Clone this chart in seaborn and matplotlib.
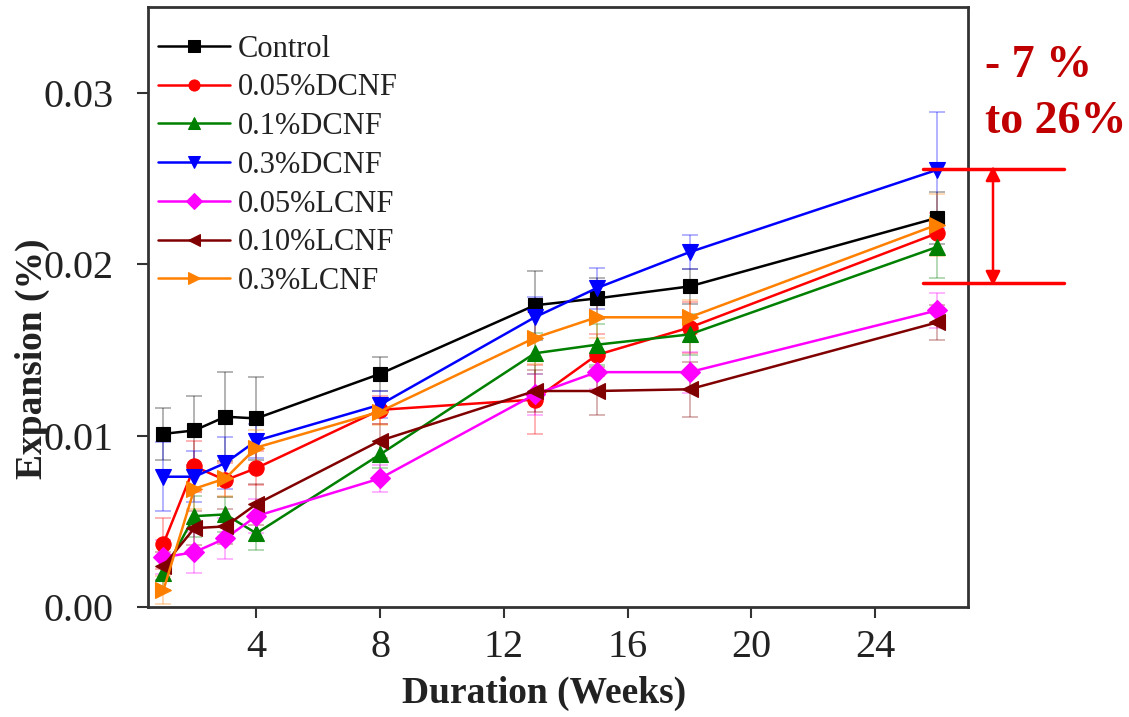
import numpy as np
import pandas as pd
import matplotlib
matplotlib.use("Agg")
import matplotlib.pyplot as plt
from matplotlib.lines import Line2D
import seaborn as sns

weeks = [1, 2, 3, 4, 8, 13, 15, 18, 26]
series_names = ["Control", "0.05%DCNF", "0.1%DCNF", "0.3%DCNF",
                "0.05%LCNF", "0.10%LCNF", "0.3%LCNF"]

control   = [0.0101, 0.0103, 0.0111, 0.0110, 0.0136, 0.0176, 0.0180, 0.0187, 0.0227]
dcnf_005  = [0.0037, 0.0082, 0.0074, 0.0081, 0.0115, 0.0121, 0.0147, 0.0163, 0.0218]
dcnf_01   = [0.0020, 0.0053, 0.0054, 0.0043, 0.0089, 0.0148, 0.0153, 0.0159, 0.0210]
dcnf_03   = [0.0076, 0.0076, 0.0084, 0.0097, 0.0118, 0.0169, 0.0186, 0.0207, 0.0255]
lcnf_005  = [0.0029, 0.0032, 0.0040, 0.0053, 0.0075, 0.0124, 0.0137, 0.0137, 0.0173]
lcnf_010  = [0.0024, 0.0046, 0.0047, 0.0060, 0.0097, 0.0126, 0.0126, 0.0127, 0.0166]
lcnf_03   = [0.0010, 0.0069, 0.0075, 0.0093, 0.0114, 0.0157, 0.0169, 0.0169, 0.0223]

err_control  = [0.0015, 0.0020, 0.0026, 0.0024, 0.0010, 0.0020, 0.0012, 0.0010, 0.0015]
err_dcnf_005 = [0.0015, 0.0015, 0.0010, 0.0010, 0.0008, 0.0020, 0.0012, 0.0015, 0.0012]
err_dcnf_01  = [0.0010, 0.0012, 0.0010, 0.0010, 0.0008, 0.0012, 0.0012, 0.0012, 0.0018]
err_dcnf_03  = [0.0020, 0.0015, 0.0015, 0.0010, 0.0008, 0.0012, 0.0012, 0.0010, 0.0034]
err_lcnf_005 = [0.0010, 0.0012, 0.0012, 0.0010, 0.0008, 0.0012, 0.0010, 0.0012, 0.0010]
err_lcnf_010 = [0.0008, 0.0010, 0.0010, 0.0012, 0.0010, 0.0012, 0.0014, 0.0016, 0.0010]
err_lcnf_03  = [0.0008, 0.0012, 0.0010, 0.0010, 0.0008, 0.0015, 0.0012, 0.0010, 0.0018]

values = [control, dcnf_005, dcnf_01, dcnf_03, lcnf_005, lcnf_010, lcnf_03]
errors = [err_control, err_dcnf_005, err_dcnf_01, err_dcnf_03, err_lcnf_005, err_lcnf_010, err_lcnf_03]

colors = ["#000000", "#FF0000", "#008000", "#0000FF", "#FF00FF", "#800000", "#FF8000"]
markers = ["s", "o", "^", "v", "D", "<", ">"]
msizes = [10, 11, 12, 12, 10, 12, 12]

xticks = [4, 8, 12, 16, 20, 24]
yticks = [0.00, 0.01, 0.02, 0.03]
ytick_labels = ["0.00", "0.01", "0.02", "0.03"]

rows = []
for name, vals in zip(series_names, values):
    for w, v in zip(weeks, vals):
        rows.append({"Duration": w, "Expansion": v, "Group": name})
df = pd.DataFrame(rows)

sns.set_style("ticks")
plt.rcParams["font.family"] = ["Liberation Serif", "DejaVu Serif"]

fig = plt.figure(figsize=(11.29, 7.17), dpi=100)
ax = fig.add_axes([148 / 1129, 1 - 607 / 717, (968 - 148) / 1129, (607 - 7) / 717])

sns.lineplot(data=df, x="Duration", y="Expansion", hue="Group", style="Group",
             hue_order=series_names, style_order=series_names,
             palette=dict(zip(series_names, colors)),
             markers=dict(zip(series_names, markers)), dashes=False,
             linewidth=1.8, markersize=10,
             ax=ax, zorder=3, legend=True)
data_lines = list(ax.lines)[:len(series_names)]
for line, c, ms in zip(data_lines, colors, msizes):
    line.set_markeredgecolor(c)
    line.set_markerfacecolor(c)
    line.set_markersize(ms)
    line.set_markeredgewidth(0.8)

# error bars (pale)
for name, vals, errs, c in zip(series_names, values, errors, colors):
    ax.errorbar(weeks, vals, yerr=errs, fmt="none", ecolor=c, alpha=0.35,
                elinewidth=1.2, capsize=6, capthick=1.2, zorder=1, label="_nolegend_")

ax.set_xlim(0.5, 27.0)
ax.set_ylim(0.0, 0.035)
ax.set_xticks(xticks)
ax.set_xticklabels([str(t) for t in xticks])
ax.set_yticks(yticks)
ax.set_yticklabels(ytick_labels)
ax.tick_params(axis="both", direction="out", length=8, width=1.5,
               labelsize=29, colors="#333333", labelcolor="#222222")
ax.tick_params(axis="x", pad=8)
ax.tick_params(axis="y", pad=17)
for s in ax.spines.values():
    s.set_linewidth(2)
    s.set_color("#333333")
    s.set_visible(True)

ax.set_xlabel("Duration (Weeks)", fontsize=27, fontweight="bold", color="#222222")
ax.set_ylabel("Expansion (%)", fontsize=27, fontweight="bold", color="#222222")
ax.xaxis.set_label_coords((544 - 148) / 820, -(676 - 607) / 600)
ax.yaxis.set_label_coords((50 - 148) / 820, (607 - 359) / 600)

sns.move_legend(ax, "upper left", bbox_to_anchor=(-0.021, 1.0), frameon=False, title=None,
                fontsize=22, handlelength=2.35, handletextpad=0.25, labelspacing=0.32,
                borderaxespad=0.5)
leg = ax.get_legend()
for t in leg.get_texts():
    t.set_color("#222222")
for h, c in zip(leg.legend_handles, colors):
    h.set_markeredgecolor(c)
    h.set_markerfacecolor(c)
    h.set_markersize(8)
    h.set_linewidth(1.8)

# annotation outside axes
red = "#FF0000"
fig.add_artist(Line2D([923 / 1129, 1064 / 1129], [1 - 169 / 717, 1 - 169 / 717],
                      color=red, lw=2.5, transform=fig.transFigure))
fig.add_artist(Line2D([923 / 1129, 1064 / 1129], [1 - 283 / 717, 1 - 283 / 717],
                      color=red, lw=2.5, transform=fig.transFigure))
ax.annotate("", xy=(993 / 1129, 1 - 286 / 717), xytext=(993 / 1129, 1 - 166 / 717),
            xycoords="figure fraction", textcoords="figure fraction",
            arrowprops=dict(arrowstyle="<|-|>", color=red, lw=1.8,
                            mutation_scale=22, shrinkA=0, shrinkB=0))
fig.text(985 / 1129, 1 - 66 / 717, "- 7 %", color="#C00000", fontsize=33,
         fontweight="bold", ha="left", va="center")
fig.text(985 / 1129, 1 - 122 / 717, "to 26%", color="#C00000", fontsize=33,
         fontweight="bold", ha="left", va="center")

fig.savefig("out.png", dpi=100)
